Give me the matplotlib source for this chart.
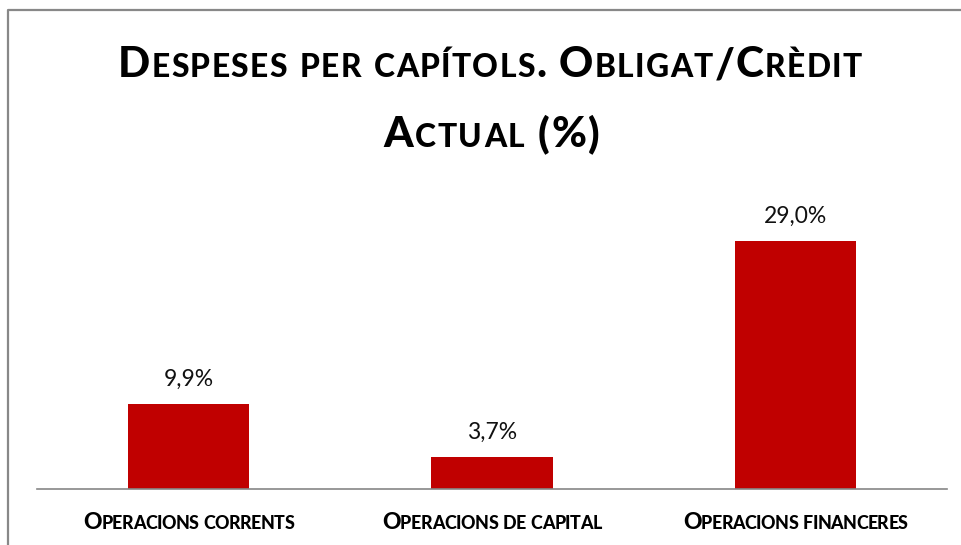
import matplotlib
matplotlib.use("Agg")
import matplotlib.pyplot as plt
from matplotlib.transforms import IdentityTransform
from matplotlib.lines import Line2D

# data
categories = ["Operacions corrents", "Operacions de capital", "Operacions financeres"]
values = [9.9, 3.7, 29.0]
value_labels = ["9,9%", "3,7%", "29,0%"]
title_lines = ["Despeses per capítols. Obligat/Crèdit", "Actual (%)"]

W, H = 961, 545
DPI = 100
FONT = "Lato"
RED = "#C00000"
GREY = "#888888"

fig = plt.figure(figsize=(W / DPI, H / DPI), dpi=DPI)
fig.patch.set_facecolor("white")
renderer = fig.canvas.get_renderer()


def px2pt(px):
    return px * 72.0 / DPI


def text_width(s, size, weight):
    t = fig.text(0, 0, s, fontsize=size, fontweight=weight, family=FONT,
                 transform=IdentityTransform())
    w = t.get_window_extent(renderer).width
    t.remove()
    return w


def advance(s, size, weight):
    # pen advance of s, measured between two H's
    return text_width("H" + s + "H", size, weight) - text_width("HH", size, weight)


def smallcaps(s, xc, ybase, size, ratio, width=None, weight="black", color="black"):
    # Calibri-style fake small caps: lowercase -> smaller capitals
    runs = []
    for ch in s:
        small = ch.islower()
        if runs and runs[-1][1] == small:
            runs[-1][0] += ch
        else:
            runs.append([ch, small])
    runs = [(txt.upper(), size * ratio if small else size) for txt, small in runs]
    natural = sum(advance(txt, sz, weight) for txt, sz in runs)
    nch = sum(len(txt) for txt, _ in runs)
    track = 0.0 if width is None else (width - natural) / (nch - 1)
    x0 = xc - (natural + track * (nch - 1)) / 2.0
    hw = {}
    for txt, sz in runs:
        if sz not in hw:
            hw[sz] = text_width("H", sz, weight)
        for j, ch in enumerate(txt):
            if ch == " ":
                continue
            lsb = text_width("H" + ch, sz, weight) - hw[sz] - text_width(ch, sz, weight)
            fig.text(x0 + advance(txt[:j], sz, weight) + lsb + j * track, ybase, ch,
                     fontsize=sz, fontweight=weight, family=FONT, color=color,
                     ha="left", va="baseline", transform=IdentityTransform())
        x0 += advance(txt, sz, weight) + len(txt) * track


# plot area in pixels
ax_left, ax_right, ax_bottom = 37, 947, H - 488.7
ymax = 35
px_per_unit = 8.55
ax_h = ymax * px_per_unit
ax = fig.add_axes([ax_left / W, ax_bottom / H, (ax_right - ax_left) / W, ax_h / H])

x = range(len(categories))
ax.bar(x, values, width=0.4, color=RED)
ax.set_xlim(-0.5, len(categories) - 0.5)
ax.set_ylim(0, ymax)
for s in ["top", "right", "left"]:
    ax.spines[s].set_visible(False)
ax.spines["bottom"].set_color("#868686")
ax.spines["bottom"].set_linewidth(1.2)
ax.set_xticks([])
ax.set_yticks([])
ax.patch.set_alpha(0)

for i, (v, lab) in enumerate(zip(values, value_labels)):
    ax.annotate(lab, xy=(i, v), xytext=(0, px2pt(18)), textcoords="offset points",
                ha="center", va="baseline", fontsize=16.5, family=FONT, color="#111111")

# category labels under the axis
label_widths = [211, 220, 225]
for i, cat in enumerate(categories):
    xc = ax.transData.transform((i, 0))[0]
    smallcaps(cat, xc, H - 529, 16.5, 0.78, width=label_widths[i])

# two-line title
smallcaps(title_lines[0], 490, H - 77, 30.5, 0.75, width=744)
smallcaps(title_lines[1], 491.5, H - 147, 30.5, 0.75, width=217)

# chart area border (only top and left fall inside the picture)
fig.add_artist(Line2D([8, 8, W + 10], [-10, H - 10, H - 10], color=GREY, lw=1.6,
                      transform=IdentityTransform()))

fig.savefig("out.png", dpi=DPI, facecolor="white")
